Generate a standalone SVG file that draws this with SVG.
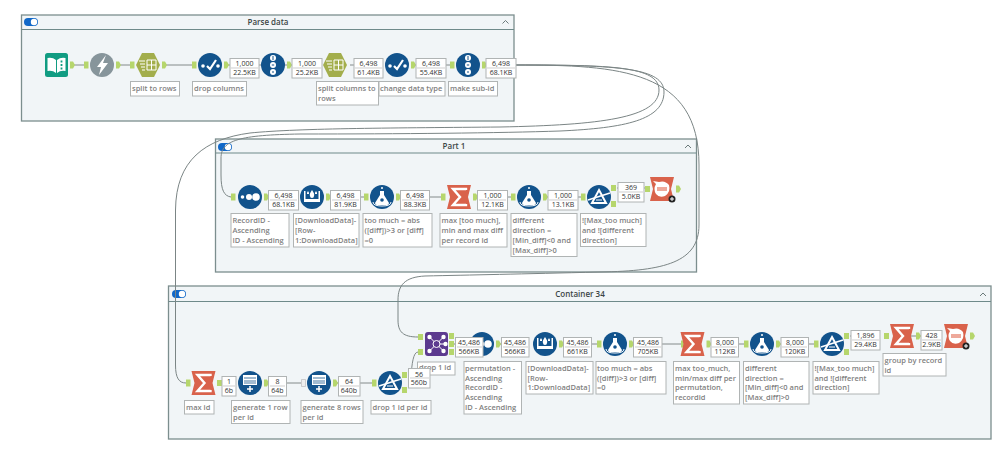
<svg xmlns="http://www.w3.org/2000/svg" width="999" height="454" viewBox="0 0 999 454">
<style>
.c{fill:#f1f5f7;stroke:#7c8e8e;stroke-width:1.3}
.h{stroke:#6f8a8a;stroke-width:1.1;fill:none}
.t{font:600 8px "Open Sans",sans-serif;fill:#3c4646;text-anchor:middle}
.w{fill:none;stroke:#7b8585;stroke-width:1}
.l{fill:none;stroke:#838a8a;stroke-width:1}
.b{fill:#fff;stroke:#b0b4b4;stroke-width:1}
.n{font:7px "Open Sans",sans-serif;fill:#333;text-anchor:middle}
.a{fill:#fff;stroke:#b0b4b4;stroke-width:1}
.x{font:600 7.5px "Open Sans",sans-serif;fill:#7f7f7f}
.m{stroke:#b9b9b9;stroke-width:.7}
.v{fill:none;stroke:#6b7a7a;stroke-width:1}
</style>
<defs>
<path id="in" d="M-18-3.500h4.500v7H-18z" fill="#b6d66c"/>
<path id="out" d="M14-3.500h3l2 3.500-2 3.500H14z" fill="#b6d66c"/>
<path id="pt" d="M0-3h5v6H0z" fill="#b6d66c"/>
<g id="sw"><rect x="0" y="0" width="14" height="8" rx="4" fill="#1168c8"/><circle cx="10" cy="4" r="3.200" fill="#fff"/></g>
<g id="book"><rect x="-11.500" y="-12" width="23" height="24" rx="2.500" fill="#119c82"/><path d="M-9-7q5-1 8.500 2V8q-3.500-3-8.500-2zM.5-5Q4-8 9-7V6Q4 5 .5 8z" fill="#fff"/><path d="M5-4.500v2M5-1v2M5 2.500v2" stroke="#119c82" stroke-width="1.800"/></g>
<g id="bolt"><circle r="12" fill="#87959b"/><path d="M4-10-5 2h4L-3 10 6-2H1z" fill="#fff"/></g>
<g id="hex"><path d="M-12 0-6-12H6L12 0 6 12H-6z" fill="#a3ae4c"/><path d="M-9-4h6M-8-1h5M-7 2h4M-6 5h3" stroke="#fff" stroke-width="1.200"/><path d="M-1-5h9V5h-9zM3.500-5V5M-1 0h9" stroke="#fff" fill="none"/></g>
<g id="chk"><circle r="12" fill="#12538c"/><circle cx="-7" cy="1" r="1.800" fill="#fff"/><circle cx="8" cy="1" r="1.800" fill="#fff"/><path d="M-3 1 0 4 6-5" fill="none" stroke="#fff" stroke-width="2.200"/></g>
<g id="num"><circle r="12" fill="#12538c"/><circle cy="-7" r="3" fill="#fff"/><circle r="3" fill="#fff"/><circle cy="7" r="3" fill="#fff"/><path d="M0-9v4M-1.200 0h2.400M-1 7h2" stroke="#12538c"/></g>
<g id="sort"><circle r="12" fill="#12538c"/><circle cx="-7.500" r="1.800" fill="#fff"/><circle cx="-1" r="3" fill="#fff"/><circle cx="6" r="3.800" fill="#fff"/></g>
<g id="crown"><circle r="12" fill="#12538c"/><path d="M-8-6h1.500v8h13v-8H8V5H-8z" fill="#fff"/><path d="M0-7q3 4 2 6a2 2 0 0 1-4 0q-1-2 2-6zM-4-6q1.500 2 1 3h-2q-.5-1 1-3zM4-6q1.500 2 1 3H3q-.5-1 1-3z" fill="#fff"/></g>
<g id="flask"><circle r="12" fill="#12538c"/><path d="M-2-6h4v4l5 8q0 2-2 2H-5q-2 0-2-2l5-8z" fill="#fff"/><circle cx="0" cy="3" r="1.800" fill="#12538c"/><circle cx="0" cy="-9" r="1" fill="#fff"/><path d="M-9 5q0 4 9 4t9-4" fill="none" stroke="#fff"/></g>
<g id="sig"><path d="M-12-12H12L9 0l3 12H-12L-9 0z" fill="#d9624b"/><path d="M7-7V-8H-6L1 0-6 8H7V7" fill="none" stroke="#fff" stroke-width="2.400"/></g>
<g id="fil"><circle r="12" fill="#12538c"/><path d="M0-7 7 6H-7z" fill="none" stroke="#fff" stroke-width="2"/><path d="M-11 3 11-4" stroke="#fff" stroke-width="1.500"/><path d="M-3 3h6" stroke="#fff"/></g>
<g id="gen"><circle r="12" fill="#12538c"/><path d="M-7-8H7V2H-7z" fill="#fff"/><path d="M-6-5H6M-6-2H6M-6 0H6" stroke="#12538c" stroke-width=".8"/><path d="M-3 6H3M0 3V9" stroke="#fff" stroke-width="1.500"/></g>
<g id="red"><path d="M-12-12H12L9 0l3 12H-12L-9 0z" fill="#d9624b"/><path d="M-6-5-9-8-3-7Q3-9 7-4 9 3 3 7-3 9-6 5-9 0-6-5z" fill="#fff"/><rect x="-5" y="-2" width="10" height="4" fill="#eea99b"/><circle cx="10" cy="10" r="3.500" fill="#222"/><path d="M8 10h4M10 8v4" stroke="#fff"/></g>
<g id="join"><rect x="-11.500" y="-12" width="23" height="24" rx="3" fill="#5c3a8f"/><path d="M-7-7 7 7M7-7-7 7M0 0h9" stroke="#fff"/><circle r="3.500" fill="#5c3a8f" stroke="#fff"/><circle cx="-7" cy="-7" r="2.200" fill="#fff"/><circle cx="7" cy="-7" r="2.200" fill="#fff"/><circle cx="-7" cy="7" r="2.200" fill="#fff"/><circle cx="7" cy="7" r="2.200" fill="#fff"/><circle cx="9" r="2.200" fill="#fff"/></g>
</defs>
<rect width="999" height="454" fill="#fff"/>

<g id="container-parse"><rect class="c" x="21.500" y="15" width="492.500" height="106"/><path class="h" d="M21.500 29.500H514"/><use href="#sw" x="24" y="18"/><text class="t" x="268" y="24.500">Parse data</text><path class="v" d="M502.500 23.500 505.500 20.500 508.500 23.500"/></g>
<g id="container-part1"><rect class="c" x="215.500" y="139" width="481" height="133"/><path class="h" d="M215.500 153H696.500"/><use href="#sw" x="218" y="143"/><text class="t" x="454" y="149">Part 1</text><path class="v" d="M685 148 688 145 691 148"/></g>
<g id="container-34"><rect class="c" x="168.500" y="286" width="822.500" height="153"/><path class="h" d="M168.500 301.500H991"/><use href="#sw" x="172" y="290"/><text class="t" x="580" y="296.500">Container 34</text><path class="v" d="M980 296 983 293 986 296"/></g>

<g id="connectors">
<path class="w" d="M516 65C620 65 664 68 664 92C664 120 625 128 560 131C500 133 400 134 300 134C240 135 221 140 221 158V175C221 190 224 196 231 197"/>
<path class="w" d="M516 65C610 65 659 66 659 90C659 118 600 125 500 127C400 128 300 128 250 133C205 139 176 160 175.500 210V365C175.500 378 179 383 186 383"/>
<path class="w" d="M516 65C620 65 699 70 699 165V225C699 262 665 271 600 272C520 274 470 275 425 276C405 277 398 285 398 300V320C398 332 403 337 418 337"/>
<path class="l" d="M74 65H84M120 65H131M166 65H192M228 65H292M350 65H379M415 65H450M486 65H516"/>
<path class="l" d="M268 197H294M330 197H364M400 197H441M477 197H511M547 197H581M617 188H645"/>
<path class="l" d="M222 383H232M268 383H301M337 383H372M408 375H411C412 365 413 352 418 352M454 344H464M500 344H527M563 344H597M633 344H681M717 344H744M780 344H814M850 336H872M908 336H926"/>
</g>

<g id="n-input"><use href="#book" x="56.500" y="65"/><use href="#out" x="56" y="65"/></g>
<g id="n-formula"><use href="#bolt" x="102" y="65"/><use href="#in" x="102" y="65"/><use href="#out" x="102" y="65"/></g>
<g id="n-split1"><use href="#hex" x="148" y="65"/><use href="#in" x="148" y="65"/><use href="#out" x="148" y="65"/><rect class="a" x="130.500" y="81.500" width="49" height="14.500"/><text class="x" x="132" y="91">split to rows</text></g>
<g id="n-select1"><use href="#chk" x="210" y="65"/><use href="#in" x="210" y="65"/><use href="#out" x="210" y="65"/><rect class="a" x="192.500" y="81.500" width="54" height="14.500"/><text class="x" x="194" y="91">drop columns</text><rect class="b" x="230" y="58.500" width="29" height="19.500"/><path class="m" d="M231 68H258"/><text class="n" x="244.500" y="66">1,000</text><text class="n" x="244.500" y="74.500">22.5KB</text></g>
<g id="n-id1"><use href="#num" x="273" y="65"/><use href="#out" x="273" y="65"/><rect class="b" x="292" y="58.500" width="30" height="19.500"/><path class="m" d="M293 68H321"/><text class="n" x="307" y="66">1,000</text><text class="n" x="307" y="74.500">25.2KB</text></g>
<g id="n-split2"><use href="#hex" x="335" y="65"/><rect class="a" x="316.500" y="81.500" width="62" height="23.500"/><text class="x" x="318" y="91">split columns to</text><text class="x" x="318" y="101">rows</text><rect class="b" x="354" y="58.500" width="29" height="19.500"/><path class="m" d="M355 68H382"/><text class="n" x="368.500" y="66">6,498</text><text class="n" x="368.500" y="74.500">61.4KB</text></g>
<g id="n-select2"><use href="#chk" x="397" y="65"/><use href="#out" x="397" y="65"/><rect class="a" x="379" y="81.500" width="66" height="14.500"/><text class="x" x="380" y="91">change data type</text><rect class="b" x="416" y="58.500" width="30" height="19.500"/><path class="m" d="M417 68H445"/><text class="n" x="431" y="66">6,498</text><text class="n" x="431" y="74.500">55.4KB</text></g>
<g id="n-id2"><use href="#in" x="468" y="65"/><use href="#num" x="468" y="65"/><use href="#out" x="468" y="65"/><rect class="a" x="448.500" y="81.500" width="49" height="14.500"/><text class="x" x="450" y="91">make sub-id</text><rect class="b" x="486" y="58.500" width="30" height="19.500"/><path class="m" d="M487 68H515"/><text class="n" x="501" y="66">6,498</text><text class="n" x="501" y="74.500">68.1KB</text></g>

<g id="p-sort"><use href="#in" x="249" y="197"/><use href="#sort" x="250" y="197"/><use href="#out" x="250" y="197"/><rect class="a" x="231" y="213.500" width="58" height="33.500"/><text class="x" x="232.500" y="223">RecordID -</text><text class="x" x="232.500" y="233">Ascending</text><text class="x" x="232.500" y="242.500">ID - Ascending</text><rect class="b" x="268.500" y="190.500" width="30" height="19.500"/><path class="m" d="M270 200H297"/><text class="n" x="283.500" y="198">6,498</text><text class="n" x="283.500" y="206.500">68.1KB</text></g>
<g id="p-multirow"><use href="#crown" x="312" y="197"/><use href="#out" x="312" y="197"/><rect class="a" x="293.500" y="213.500" width="65.500" height="33.500"/><text class="x" x="295" y="223">[DownloadData]-</text><text class="x" x="295" y="233">[Row-</text><text class="x" x="295" y="242.500">1:DownloadData]</text><rect class="b" x="330.500" y="190.500" width="30" height="19.500"/><path class="m" d="M332 200H359"/><text class="n" x="345.500" y="198">6,498</text><text class="n" x="345.500" y="206.500">81.9KB</text></g>
<g id="p-formula1"><use href="#in" x="382" y="197"/><use href="#flask" x="382" y="197"/><use href="#out" x="382" y="197"/><rect class="a" x="363" y="213.500" width="69" height="33.500"/><text class="x" x="364.500" y="223">too much = abs</text><text class="x" x="364.500" y="233">([diff])&gt;3 or [diff]</text><text class="x" x="364.500" y="242.500">=0</text><rect class="b" x="400.500" y="190.500" width="29" height="19.500"/><path class="m" d="M402 200H428"/><text class="n" x="415" y="198">6,498</text><text class="n" x="415" y="206.500">88.3KB</text></g>
<g id="p-sum"><use href="#in" x="459" y="197"/><use href="#sig" x="459" y="197"/><use href="#out" x="459" y="197"/><rect class="a" x="440" y="213.500" width="67" height="33.500"/><text class="x" x="441.500" y="223">max [too much],</text><text class="x" x="441.500" y="233">min and max diff</text><text class="x" x="441.500" y="242.500">per record id</text><rect class="b" x="477.500" y="190.500" width="30" height="19.500"/><path class="m" d="M479 200H506"/><text class="n" x="492.500" y="198">1,000</text><text class="n" x="492.500" y="206.500">12.1KB</text></g>
<g id="p-formula2"><use href="#in" x="529" y="197"/><use href="#flask" x="529" y="197"/><use href="#out" x="529" y="197"/><rect class="a" x="511" y="213.500" width="66" height="43"/><text class="x" x="512.500" y="223">different</text><text class="x" x="512.500" y="233">direction =</text><text class="x" x="512.500" y="242.500">[Min_diff]&lt;0 and</text><text class="x" x="512.500" y="252.500">[Max_diff]&gt;0</text><rect class="b" x="548" y="190.500" width="30" height="19.500"/><path class="m" d="M549 200H577"/><text class="n" x="563" y="198">1,000</text><text class="n" x="563" y="206.500">13.1KB</text></g>
<g id="p-filter"><use href="#in" x="599" y="197"/><use href="#fil" x="599" y="197"/><use href="#pt" x="611" y="188"/><use href="#pt" x="611" y="204"/><rect class="a" x="580.500" y="213.500" width="65.500" height="33"/><text class="x" x="582" y="223">![Max_too much]</text><text class="x" x="582" y="233">and ![different</text><text class="x" x="582" y="242.500">direction]</text><rect class="b" x="618" y="182.500" width="26" height="19.500"/><path class="m" d="M619 192H643"/><text class="n" x="631" y="190">369</text><text class="n" x="631" y="198.500">5.0KB</text></g>
<g id="p-browse"><use href="#pt" x="645" y="189"/><use href="#red" x="662" y="189"/><use href="#out" x="662" y="189"/></g>

<g id="c-sum"><use href="#in" x="204" y="383"/><use href="#sig" x="203.500" y="383"/><use href="#pt" x="217" y="383"/><rect class="a" x="184.500" y="400.500" width="29.500" height="13.500"/><text class="x" x="186" y="410">max id</text><rect class="b" x="222" y="376.500" width="14" height="19.500"/><path class="m" d="M223 386H235"/><text class="n" x="229" y="384">1</text><text class="n" x="229" y="392.500">6b</text></g>
<g id="c-gen1"><use href="#gen" x="250" y="383"/><use href="#out" x="250" y="383"/><rect class="a" x="231.500" y="400.500" width="58.500" height="23"/><text class="x" x="233" y="410">generate 1 row</text><text class="x" x="233" y="419.500">per id</text><rect class="b" x="268.500" y="376.500" width="18" height="19.500"/><path class="m" d="M270 386H285"/><text class="n" x="277.500" y="384">8</text><text class="n" x="277.500" y="392.500">64b</text></g>
<g id="c-gen2"><path d="M301.500 379.500h4v7h-4z" fill="#eee" stroke="#bbb" stroke-width=".7"/><use href="#gen" x="319" y="383"/><use href="#out" x="319" y="383"/><rect class="a" x="301" y="400.500" width="62" height="23"/><text class="x" x="302.500" y="410">generate 8 rows</text><text class="x" x="302.500" y="419.500">per id</text><rect class="b" x="338.500" y="376.500" width="21.500" height="19.500"/><path class="m" d="M340 386H359"/><text class="n" x="349" y="384">64</text><text class="n" x="349" y="392.500">640b</text></g>
<g id="c-filter"><use href="#in" x="390" y="383"/><use href="#fil" x="390" y="383"/><use href="#pt" x="402" y="375"/><use href="#pt" x="402" y="390"/><rect class="a" x="371" y="400.500" width="60" height="13.500"/><text class="x" x="372.500" y="410">drop 1 id per id</text></g>
<g id="c-join"><use href="#pt" x="418" y="337"/><use href="#pt" x="418" y="352"/><use href="#join" x="436.500" y="344"/><use href="#pt" x="449" y="336"/><use href="#pt" x="449" y="344"/><use href="#pt" x="449" y="352"/><rect class="a" x="417.500" y="362" width="37.500" height="13"/><text class="x" x="419" y="370">drop 1 id</text><rect class="b" x="408.500" y="368.500" width="21.500" height="19.500"/><path class="m" d="M410 378H429"/><text class="n" x="419" y="376.500">56</text><text class="n" x="419" y="384.500">560b</text></g>
<g id="c-sort"><use href="#sort" x="482" y="344"/><use href="#out" x="482" y="344"/><rect class="a" x="464" y="361.500" width="57.500" height="52.500"/><text class="x" x="465" y="370.500">permutation -</text><text class="x" x="465" y="380.500">Ascending</text><text class="x" x="465" y="390">RecordID -</text><text class="x" x="465" y="400">Ascending</text><text class="x" x="465" y="409.500">ID - Ascending</text><rect class="b" x="455.500" y="337.500" width="27.500" height="19.500"/><path class="m" d="M457 347H482"/><text class="n" x="469" y="345">45,486</text><text class="n" x="469" y="353.500">566KB</text></g>
<g id="c-multirow"><use href="#crown" x="545" y="344"/><use href="#out" x="545" y="344"/><rect class="a" x="526" y="361.500" width="67" height="32.500"/><text class="x" x="527.500" y="370.500">[DownloadData]-</text><text class="x" x="527.500" y="380.500">[Row-</text><text class="x" x="527.500" y="390">1:DownloadData]</text><rect class="b" x="501.500" y="337.500" width="27.500" height="19.500"/><path class="m" d="M503 347H528"/><text class="n" x="515" y="345">45,486</text><text class="n" x="515" y="353.500">566KB</text></g>
<g id="c-formula1"><use href="#in" x="615" y="344"/><use href="#flask" x="615" y="344"/><use href="#out" x="615" y="344"/><rect class="a" x="596" y="361.500" width="70" height="32.500"/><text class="x" x="597" y="370.500">too much = abs</text><text class="x" x="597" y="380.500">([diff])&gt;3 or [diff]</text><text class="x" x="597" y="390">=0</text><rect class="b" x="563.500" y="337.500" width="28" height="19.500"/><path class="m" d="M565 347H590"/><text class="n" x="577.500" y="345">45,486</text><text class="n" x="577.500" y="353.500">661KB</text></g>
<g id="c-sum2"><use href="#in" x="699" y="344"/><use href="#sig" x="692.500" y="344"/><use href="#out" x="692.500" y="344"/><rect class="a" x="673.500" y="361.500" width="66" height="42.500"/><text class="x" x="675" y="370.500">max too_much,</text><text class="x" x="675" y="380.500">min/max diff per</text><text class="x" x="675" y="390">permutation,</text><text class="x" x="675" y="400">recordid</text><rect class="b" x="633.500" y="337.500" width="28.500" height="19.500"/><path class="m" d="M635 347H661"/><text class="n" x="648" y="345">45,486</text><text class="n" x="648" y="353.500">705KB</text></g>
<g id="c-formula2"><use href="#in" x="762" y="344"/><use href="#flask" x="762" y="344"/><use href="#out" x="762" y="344"/><rect class="a" x="743.500" y="361.500" width="65.500" height="42.500"/><text class="x" x="745" y="370.500">different</text><text class="x" x="745" y="380.500">direction =</text><text class="x" x="745" y="390">[Min_diff]&lt;0 and</text><text class="x" x="745" y="400">[Max_diff]&gt;0</text><rect class="b" x="711" y="337.500" width="27.500" height="19.500"/><path class="m" d="M712 347H737"/><text class="n" x="725" y="345">8,000</text><text class="n" x="725" y="353.500">112KB</text></g>
<g id="c-filter2"><use href="#in" x="832" y="344"/><use href="#fil" x="832" y="344"/><use href="#pt" x="844" y="336"/><use href="#pt" x="844" y="352"/><rect class="a" x="813" y="361.500" width="66" height="32.500"/><text class="x" x="814.500" y="370.500">![Max_too much]</text><text class="x" x="814.500" y="380.500">and ![different</text><text class="x" x="814.500" y="390">direction]</text><rect class="b" x="781" y="337.500" width="27.500" height="19.500"/><path class="m" d="M782 347H807"/><text class="n" x="795" y="345">8,000</text><text class="n" x="795" y="353.500">120KB</text></g>
<g id="c-sum3"><use href="#pt" x="884" y="336"/><use href="#sig" x="902" y="336"/><use href="#out" x="902" y="336"/><rect class="a" x="883" y="353.500" width="63" height="22.500"/><text class="x" x="884.500" y="362.500">group by record</text><text class="x" x="884.500" y="372.500">id</text><rect class="b" x="851" y="330.500" width="29" height="19.500"/><path class="m" d="M852 340H879"/><text class="n" x="865.500" y="338">1,896</text><text class="n" x="865.500" y="346.500">29.4KB</text></g>
<g id="c-browse"><use href="#red" x="956" y="336"/><use href="#out" x="956" y="336"/><rect class="b" x="921" y="330.500" width="21" height="19.500"/><path class="m" d="M922 340H941"/><text class="n" x="931.500" y="338">428</text><text class="n" x="931.500" y="346.500">2.9KB</text></g>
</svg>
